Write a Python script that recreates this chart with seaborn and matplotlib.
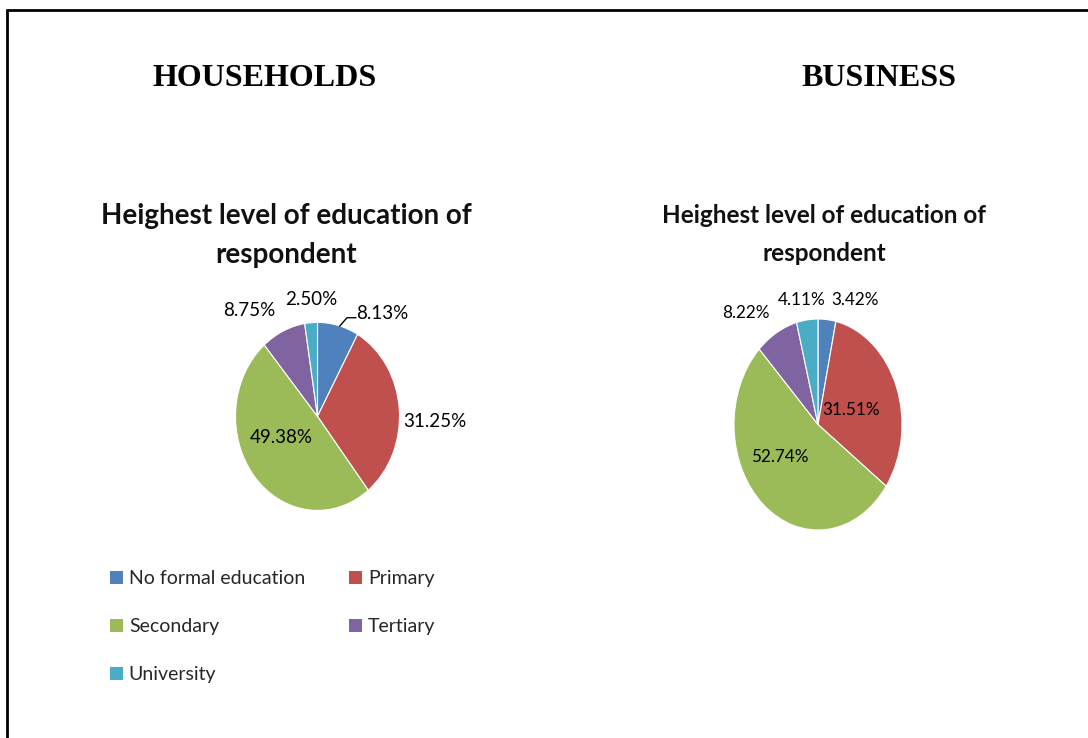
import matplotlib
matplotlib.use("Agg")
import matplotlib.pyplot as plt
from matplotlib.lines import Line2D
from matplotlib.patches import Patch
import numpy as np
import seaborn as sns

# Survey results: highest level of education of respondent (%)
categories = ["No formal education", "Primary", "Secondary", "Tertiary", "University"]
households = [8.13, 31.25, 49.38, 8.75, 2.50]
business = [3.42, 31.51, 52.74, 8.22, 4.11]
panel_titles = ["HOUSEHOLDS", "BUSINESS"]
chart_title = "Heighest level of education of\nrespondent"

sns.set_theme(style="white")
palette = sns.color_palette(["#4F81BD", "#C0504D", "#9BBB59", "#8064A2", "#4BACC6"])
plt.rcParams["font.family"] = ["Lato", "DejaVu Sans"]

W, H = 1088, 738
fig = plt.figure(figsize=(W / 100, H / 100), dpi=100)
fig.patch.set_facecolor("white")


def px_axes(cx, cy, rx, ry):
    """Axes whose box is the pie's bounding ellipse (pixel units, y from top)."""
    return fig.add_axes([(cx - rx) / W, 1 - (cy + ry) / H, 2 * rx / W, 2 * ry / H])


def draw_pie(ax, values, label_pos, size, leader=None):
    ax.pie(values, colors=palette, startangle=90, counterclock=False,
           radius=1.0, wedgeprops=dict(edgecolor="white", linewidth=0.8))
    ax.set_aspect("auto")
    ax.set_xlim(-1, 1)
    ax.set_ylim(-1, 1)
    ax.axis("off")
    for v, (x, y) in zip(values, label_pos):
        ax.text(x, y, f"{v:.2f}%", ha="center", va="center", fontsize=size,
                color="black", clip_on=False)
    if leader is not None:
        ax.add_line(Line2D(leader[0], leader[1], color="black", lw=1.0, clip_on=False))


# Households pie
ax1 = px_axes(317.5, 416.4, 82, 94)
draw_pie(ax1, households,
         [(0.79, 1.10), (1.43, -0.05), (-0.445, -0.22), (-0.835, 1.13), (-0.08, 1.24)],
         13.5, leader=([0.27, 0.36, 0.47], [0.96, 1.05, 1.05]))

# Business pie
ax2 = px_axes(818, 424.5, 84, 105.5)
draw_pie(ax2, business,
         [(0.44, 1.18), (0.40, 0.14), (-0.45, -0.31), (-0.86, 1.06), (-0.20, 1.18)],
         12.3)

# Panel headings
fig.text(265 / W, 1 - 78 / H, panel_titles[0], ha="center", va="center",
         fontsize=23, fontweight="bold", family="Liberation Serif", color="black")
fig.text(878.5 / W, 1 - 78 / H, panel_titles[1], ha="center", va="center",
         fontsize=23, fontweight="bold", family="Liberation Serif", color="black")

# Chart titles
fig.text(286 / W, 1 - 235.5 / H, chart_title, ha="center", va="center",
         fontsize=20, fontweight="bold", linespacing=1.65, color="#111111")
fig.text(824 / W, 1 - 234.5 / H, chart_title, ha="center", va="center",
         fontsize=17.5, fontweight="bold", linespacing=1.8, color="#111111")

# Legend, filled row by row
order = [0, 2, 4, 1, 3]
handles = [Patch(facecolor=palette[i], edgecolor="none") for i in order]
labels = [categories[i] for i in order]
fig.legend(handles, labels, loc="upper left",
           bbox_to_anchor=(110 / W, 1 - 570 / H), ncol=2, frameon=False,
           fontsize=14, handlelength=0.67, handleheight=0.67,
           handletextpad=0.3, labelspacing=1.6, columnspacing=2.27,
           borderpad=0, borderaxespad=0)

# Outer frame (left and top edges)
fig.add_artist(Line2D([7 / W, 7 / W], [0, 1 - 10 / H], color="black", lw=2.0,
                      transform=fig.transFigure))
fig.add_artist(Line2D([7 / W, 1], [1 - 10 / H, 1 - 10 / H], color="black", lw=2.0,
                      transform=fig.transFigure))

fig.savefig("out.png", dpi=100)
